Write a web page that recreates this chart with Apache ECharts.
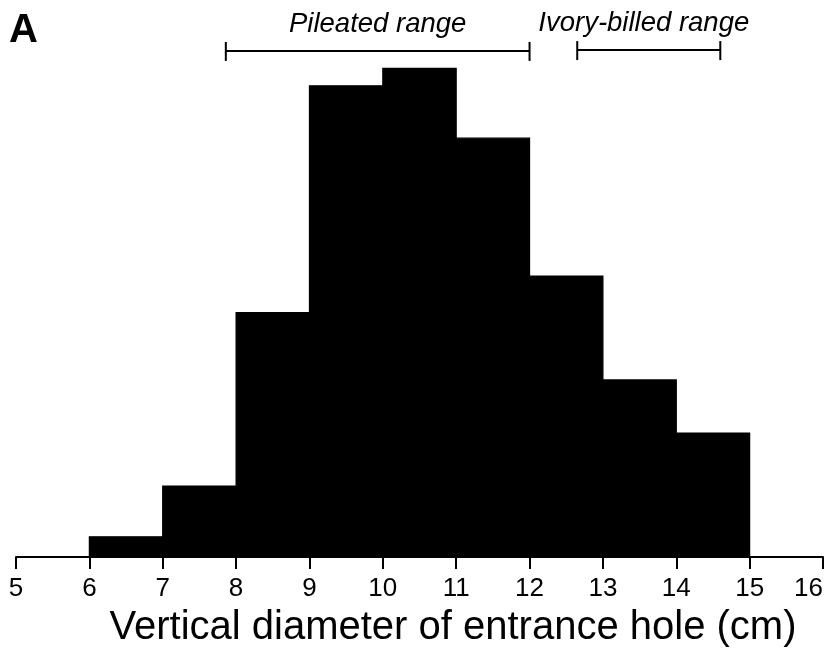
<!DOCTYPE html>
<html>
<head>
<meta charset="utf-8">
<script src="https://cdn.jsdelivr.net/npm/echarts@6/dist/echarts.min.js"></script>
<style>html,body{margin:0;padding:0;background:#fff;}#c{width:828px;height:651px;}</style>
</head>
<body>
<div id="c"></div>
<script>
// Histogram bins (cm) and heights (relative frequency units)
var binStarts = [6, 7, 8, 9, 10, 11, 12, 13, 14];
var binEnds   = [7, 8, 9, 10, 11, 12, 13, 14, 15];
var counts    = [1.16, 4.07, 14.0, 27.0, 28.0, 24.0, 16.1, 10.15, 7.1];
// Range brackets
var rangeNames = ['Pileated range', 'Ivory-billed range'];
var rangeFrom  = [7.86, 12.65];
var rangeTo    = [12.0, 14.6];
var rangeLevel = [29.0, 29.05];
var xTicks = [5, 6, 7, 8, 9, 10, 11, 12, 13, 14, 15, 16];

var FONT = 'Liberation Sans, Arial, sans-serif';
var histData = binStarts.map(function (s, i) { return [s, binEnds[i], counts[i]]; });
var rangeData = rangeNames.map(function (n, i) { return [rangeFrom[i], rangeTo[i], rangeLevel[i], n]; });

var chart = echarts.init(document.getElementById('c'), null, {renderer: 'canvas'});
chart.setOption({
  animation: false,
  backgroundColor: '#fff',
  grid: {left: 16, right: 5, bottom: 94, top: 33.5, containLabel: false, outerBoundsMode: 'none'},
  xAxis: {
    type: 'value', min: xTicks[0], max: xTicks[xTicks.length - 1], interval: 1,
    axisLine: {show: true, lineStyle: {color: '#000', width: 2}},
    axisTick: {show: true, inside: false, length: 12, lineStyle: {color: '#000', width: 2}},
    axisLabel: {color: '#000', fontSize: 26, fontFamily: FONT, margin: 19, hideOverlap: false,
      alignMaxLabel: 'right'},
    splitLine: {show: false}
  },
  yAxis: {
    type: 'value', min: 0, max: 30, show: false, splitLine: {show: false}
  },
  graphic: [
    {type: 'text', left: 9, top: 11, style: {text: 'A', font: 'bold 40px ' + FONT, fill: '#000'}},
    {type: 'text', x: 453, y: 628, style: {text: 'Vertical diameter of entrance hole (cm)', font: '40px ' + FONT, fill: '#000', align: 'center', verticalAlign: 'middle'}}
  ],
  series: [
    {
      type: 'custom', clip: false,
      data: histData,
      renderItem: function (params, api) {
        var p0 = api.coord([api.value(0), api.value(2)]);
        var p1 = api.coord([api.value(1), 0]);
        return {type: 'rect', shape: {x: p0[0], y: p0[1], width: p1[0] - p0[0], height: p1[1] - p0[1]},
          style: {fill: '#000', stroke: '#000', lineWidth: 1.2}};
      }
    },
    {
      type: 'custom', clip: false,
      data: rangeData,
      renderItem: function (params, api) {
        var a = api.coord([api.value(0), api.value(2)]);
        var b = api.coord([api.value(1), api.value(2)]);
        var name = rangeNames[params.dataIndex];
        var st = {stroke: '#000', lineWidth: 2};
        return {type: 'group', children: [
          {type: 'line', shape: {x1: a[0], y1: a[1], x2: b[0], y2: b[1]}, style: st},
          {type: 'line', shape: {x1: a[0], y1: a[1] - 9, x2: a[0], y2: a[1] + 10}, style: st},
          {type: 'line', shape: {x1: b[0], y1: b[1] - 9, x2: b[0], y2: b[1] + 10}, style: st},
          {type: 'text', x: (a[0] + b[0]) / 2 + (params.dataIndex === 1 ? -5 : 0), y: a[1] - 27,
            style: {text: name, font: 'italic 27.5px ' + FONT, fill: '#000', align: 'center', verticalAlign: 'middle'}}
        ]};
      }
    }
  ]
});
</script>
</body>
</html>
